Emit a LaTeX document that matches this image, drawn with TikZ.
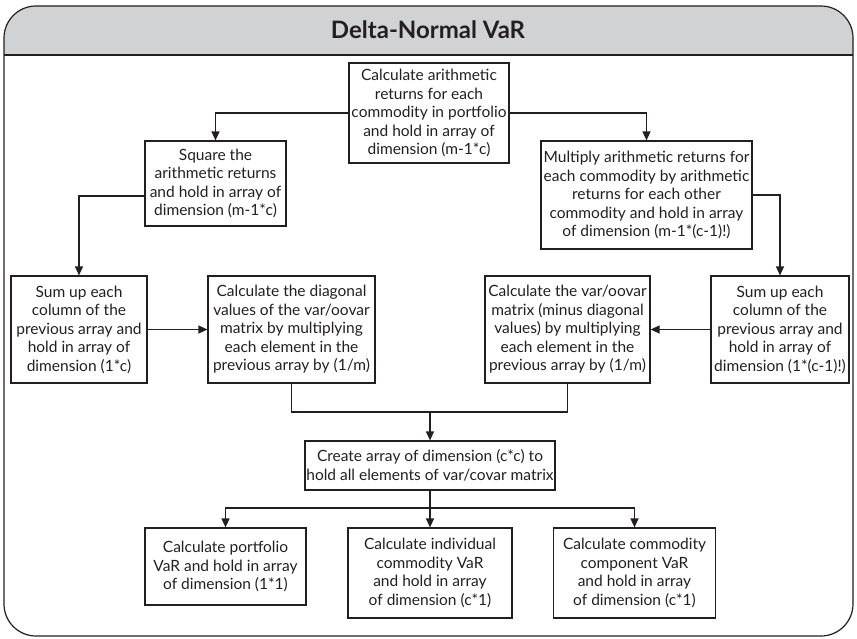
\documentclass[tikz,border=0pt]{standalone}
\usepackage{fontspec}
\setmainfont{Lato}
\usetikzlibrary{arrows.meta}
\definecolor{ink}{HTML}{231F20}
\definecolor{hdr}{HTML}{D1D2D4}
\begin{document}
\begin{tikzpicture}[x=1pt,y=-1pt,
  box/.style={draw=ink, line width=1.2pt, align=center, inner sep=0pt, text=ink,
    font=\fontsize{15.5}{18.5}\selectfont},
  conn/.style={draw=ink, line width=1.2pt},
  arr/.style={conn, -{Triangle[length=9pt,width=8pt]}}]
\useasboundingbox (0,0) rectangle (857,638);
% frame and header
\begin{scope}
  \clip[rounded corners=32pt] (4,6) rectangle (853,636);
  \fill[hdr] (0,0) rectangle (857,55);
\end{scope}
\draw[ink, line width=1.2pt, rounded corners=32pt] (4,6) rectangle (853,636);
\draw[ink, line width=1.2pt] (4,55) -- (853,55);
\node[text=ink, font=\fontsize{24}{28}\selectfont\bfseries] (title) at (428,30) {Delta-Normal VaR};
% boxes
\node[box, minimum width=160pt, minimum height=100pt] (top) at (429,113)
  {Calculate arithmetic\\returns for each\\commodity in portfolio\\and hold in array of\\dimension (m-1*c)};
\node[box, minimum width=141pt, minimum height=85pt] (square) at (215.5,183.5)
  {Square the\\arithmetic returns\\and hold in array of\\dimension (m-1*c)};
\node[box, minimum width=211pt, minimum height=108pt] (mult) at (646.5,195)
  {Multiply arithmetic returns for\\each commodity by arithmetic\\returns for each other\\commodity and hold in array\\of dimension (m-1*(c-1)!)};
\node[box, minimum width=136pt, minimum height=107pt] (sumL) at (79,329.5)
  {Sum up each\\column of the\\previous array and\\hold in array of\\dimension (1*c)};
\node[box, minimum width=167pt, minimum height=107pt] (diag) at (291.5,329.5)
  {Calculate the diagonal\\values of the var/oovar\\matrix by multiplying\\each element in the\\previous array by (1/m)};
\node[box, minimum width=165pt, minimum height=107pt] (var) at (567.5,329.5)
  {Calculate the var/oovar\\matrix (minus diagonal\\values) by multiplying\\each element in the\\previous array by (1/m)};
\node[box, minimum width=138pt, minimum height=107pt] (sumR) at (780,329.5)
  {Sum up each\\column of the\\previous array and\\hold in array of\\dimension (1*(c-1)!)};
\node[box, minimum width=250pt, minimum height=49pt] (create) at (430,465.5)
  {Create array of dimension (c*c) to\\hold all elements of var/covar matrix};
\node[box, minimum width=161pt, minimum height=77pt] (b1) at (225.5,566.5)
  {Calculate portfolio\\VaR and hold in array\\of dimension (1*1)};
\node[box, minimum width=164pt, minimum height=90pt] (b2) at (430,573)
  {Calculate individual\\commodity VaR\\and hold in array\\of dimension (c*1)};
\node[box, minimum width=162pt, minimum height=90pt] (b3) at (634.5,573)
  {Calculate commodity\\component VaR\\and hold in array\\of dimension (c*1)};
% connectors
\coordinate (merge) at (430,412);
\coordinate (split) at (430,508);
\draw[arr] (top.west) -| (square.north);
\draw[arr] (top.east) -| (mult.north);
\draw[arr] ([yshift=-12.5pt]square.west) -| (sumL.north);
\draw[arr] (mult.east) -| (sumR.north);
\draw[arr] (sumL.east) -- (diag.west);
\draw[arr] (sumR.west) -- (var.east);
\draw[conn] (diag.south) |- (merge) -| (var.south);
\draw[arr] (merge) -- (create.north);
\draw[conn] (create.south) -- (split);
\draw[arr] (split) -| (b1.north);
\draw[arr] (split) -- (b2.north);
\draw[arr] (split) -| (b3.north);
\end{tikzpicture}
\end{document}
